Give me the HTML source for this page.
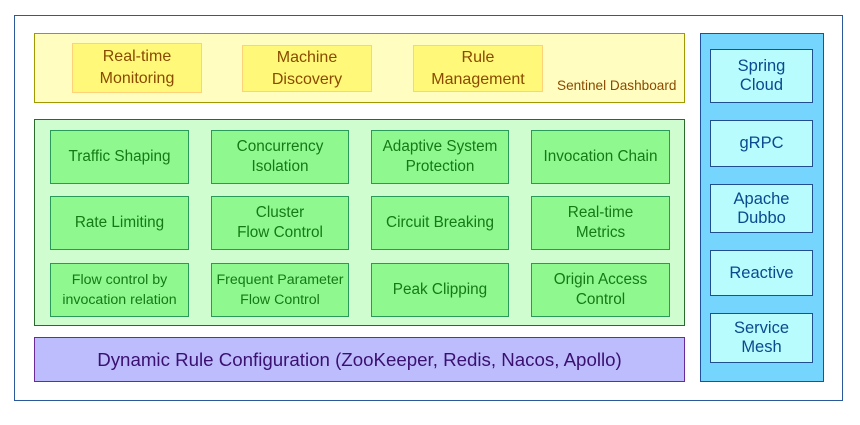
<!DOCTYPE html>
<html><head><style>
body{margin:0;width:860px;height:425px;background:#fff;font-family:"Liberation Sans",sans-serif;position:relative;overflow:hidden}
div{box-sizing:border-box;position:absolute}
.c{display:flex;align-items:center;justify-content:center;text-align:center;line-height:20px;white-space:nowrap}
.y{background:#fff878;border:1.5px solid #ffd27a;color:#8a4a00;font-size:16px;line-height:22px}
.g{background:#8ff88f;border:1.5px solid #2a9a5a;color:#157a15;font-size:15.3px}
.b{background:#b8fcfe;border:1.5px solid #1f4f8f;color:#0a4a8f;font-size:16.5px;line-height:19px;left:710px;width:103px}
</style></head><body>
<div style="left:14px;top:15px;width:829px;height:386px;border:1.5px solid #2a5a9a"></div>
<div style="left:34px;top:33px;width:651px;height:70px;background:#fffec0;border:1.5px solid #a09a00"></div>
<div class="c y" style="left:72px;top:43px;width:130px;height:50px">Real-time<br>Monitoring</div>
<div class="c y" style="left:242px;top:45px;width:130px;height:47px">Machine<br>Discovery</div>
<div class="c y" style="left:413px;top:45px;width:130px;height:47px">Rule<br>Management</div>
<div style="left:557px;top:78px;font-size:13.6px;color:#8a4a00">Sentinel Dashboard</div>
<div style="left:34px;top:119px;width:651px;height:207px;background:#d0fdd0;border:1.5px solid #2a6a2a"></div>
<div class="c g" style="left:50px;top:130px;width:139px;height:54px">Traffic Shaping</div>
<div class="c g" style="left:211px;top:130px;width:138px;height:54px">Concurrency<br>Isolation</div>
<div class="c g" style="left:371px;top:130px;width:138px;height:54px">Adaptive System<br>Protection</div>
<div class="c g" style="left:531px;top:130px;width:139px;height:54px">Invocation Chain</div>
<div class="c g" style="left:50px;top:196px;width:139px;height:54px">Rate Limiting</div>
<div class="c g" style="left:211px;top:196px;width:138px;height:54px">Cluster<br>Flow Control</div>
<div class="c g" style="left:371px;top:196px;width:138px;height:54px">Circuit Breaking</div>
<div class="c g" style="left:531px;top:196px;width:139px;height:54px">Real-time<br>Metrics</div>
<div class="c g" style="left:50px;top:263px;width:139px;height:54px;font-size:14.2px">Flow control by<br>invocation relation</div>
<div class="c g" style="left:211px;top:263px;width:138px;height:54px;font-size:14.2px">Frequent Parameter<br>Flow Control</div>
<div class="c g" style="left:371px;top:263px;width:138px;height:54px">Peak Clipping</div>
<div class="c g" style="left:531px;top:263px;width:139px;height:54px">Origin Access<br>Control</div>
<div class="c" style="left:34px;top:337px;width:651px;height:45px;background:#bdbdfd;border:1.5px solid #6a2a9a;color:#3a1070;font-size:18.7px">Dynamic Rule Configuration (ZooKeeper, Redis, Nacos, Apollo)</div>
<div style="left:700px;top:33px;width:124px;height:349px;background:#76d5fd;border:1.5px solid #1f4f9f"></div>
<div class="c b" style="top:49px;height:54px">Spring<br>Cloud</div>
<div class="c b" style="top:120px;height:47px">gRPC</div>
<div class="c b" style="top:184px;height:49px">Apache<br>Dubbo</div>
<div class="c b" style="top:250px;height:46px">Reactive</div>
<div class="c b" style="top:313px;height:50px">Service<br>Mesh</div>
</body></html>
